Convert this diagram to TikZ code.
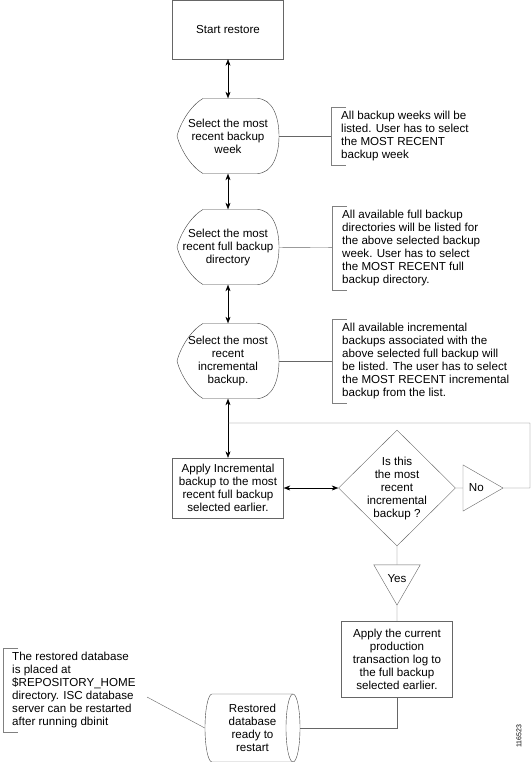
\documentclass[tikz,border=0pt]{standalone}
\usepackage{fontspec}
\setmainfont{Liberation Sans}
\usepackage{tikz}
\usetikzlibrary{shapes, arrows.meta, positioning}
\tikzstyle{process} = [rectangle, draw=black!60, minimum width=111pt, minimum height=60pt, align=center, inner sep=2pt]
\tikzstyle{display} = [rectangle, minimum width=102pt, minimum height=75pt, align=center, inner sep=0]
\tikzstyle{decision} = [diamond, draw=black!60, minimum width=117pt, minimum height=116pt, align=center, inner sep=-3pt]
\tikzstyle{flag} = [regular polygon, regular polygon sides=3, inner sep=0, draw=black!60, minimum size=53.4pt]
\tikzstyle{store} = [rectangle, minimum width=95pt, minimum height=68pt, align=center, inner sep=0]
\tikzstyle{note} = [align=left, anchor=west, inner xsep=10pt, inner ysep=4pt]
\tikzstyle{link} = [draw=black!60]
\tikzstyle{bracket} = [draw=black!50]
\tikzstyle{both} = [black, {Stealth[length=6.5pt,width=5pt]}-{Stealth[length=6.5pt,width=5pt]}]
\newcommand{\displayoutline}[1]{%
	\draw[black!75, shift={(#1.center)}] (-25,-37.5) -- (29,-37.5)
		.. controls (44,-37.5) and (51,-20) .. (51,0)
		.. controls (51,20) and (44,37.5) .. (29,37.5) -- (-25,37.5)
		.. controls (-38,30) and (-48,12) .. (-51,0)
		.. controls (-48,-12) and (-38,-30) .. (-25,-37.5) -- cycle;}
\newcommand{\storeoutline}[1]{%
	\draw[black!75, shift={(#1.center)}] (40.5,-34) -- (-40.5,-34)
		arc[start angle=90, end angle=270, x radius=7, y radius=-34] -- (40.5,34);
	\draw[black!75, shift={(#1.center)}] (40.5,0) ellipse[x radius=7, y radius=34];}

\begin{document}
\begin{tikzpicture}[x=1pt, y=-1pt, font=\fontsize{11.6}{13}\selectfont]
					\useasboundingbox (0,0) rectangle (532,762);

					\node (Start) [process, minimum height=59pt] at (228,29.5) {Start restore};

					\node (Week) [display] at (228,136) {Select the most\\recent backup\\week};
					\node (Dir) [display] at (228,247) {Select the most\\recent full backup\\directory};
					\node (Incr) [display] at (228,361) {Select the most\\recent\\incremental\\backup.};
					\foreach \n in {Week, Dir, Incr}
						\displayoutline{\n};

					\draw[both] (Start) -- (Week);
					\draw[both] (Week) -- (Dir);
					\draw[both] (Dir) -- (Incr);

					\node (WeekNote) [note] at (331,136) {All backup weeks will be\\listed. User has to select\\the MOST RECENT\\backup week};
					\node (DirNote) [note] at (332,248) {All available full backup\\directories will be listed for\\the above selected backup\\week. User has to select\\the MOST RECENT full\\backup directory.};
					\node (IncrNote) [note] at (332,361) {All available incremental\\backups associated with the\\above selected full backup will\\be listed. The user has to select\\the MOST RECENT incremental\\backup from the list.};
					\draw[link] (Week) -- (WeekNote);
					\draw[link] (Dir) -- (DirNote);
					\draw[link] (Incr) -- (IncrNote);

					\node (Apply) [process] at (228,488) {Apply Incremental\\backup to the most\\recent full backup\\selected earlier.};
					\draw[both] (Incr) -- (Apply);

					\node (Check) [decision] at (397,488) {Is this\\the most\\recent\\incremental\\backup ?};
					\draw[both] (Apply) -- (Check);

					\node (No) [flag, shape border rotate=270] at (476.3,488) {No};
					\draw[link] (Check) -- (No);
					\coordinate (LoopRight) at (530,488);
					\coordinate (LoopTop) at (530,423);
					\coordinate (LoopJoin) at (228,423);
					\draw[link] (No.east) -- (LoopRight) -- (LoopTop) -- (LoopJoin);

					\node (Yes) [flag, shape border rotate=180] at (397,578.3) {Yes};
					\draw[link] (Check) -- (Yes);

					\node (LogApply) [process, minimum height=76pt] at (397,659) {Apply the current\\production\\transaction log to\\the full backup\\selected earlier.};
					\draw[link] (Yes.south) -- (LogApply);

					\node (Restored) [store] at (252.5,728) {Restored\\database\\ready to\\restart};
					\storeoutline{Restored}
					\coordinate (LogTurn) at (397,728);
					\draw[link] (LogApply) -- (LogTurn) -- (Restored);

					\node (RestoredNote) [note, inner xsep=9pt] at (3,690) {The restored database\\is placed at\\\$REPOSITORY\_HOME\\directory. ISC database\\server can be restarted\\after running dbinit};
					\coordinate (RestoredNoteEnd) at (147,697);
					\draw[link] (RestoredNoteEnd) -- (Restored.west);

					\foreach \n in {WeekNote, DirNote, IncrNote, RestoredNote}
						\draw[bracket] ([xshift=15pt]\n.north west) -- (\n.north west) -- (\n.south west) -- ([xshift=15pt]\n.south west);

					\node (FigNum) [rotate=90, font=\fontsize{7}{8}\selectfont] at (519,736) {116523};
				\end{tikzpicture}
\end{document}
